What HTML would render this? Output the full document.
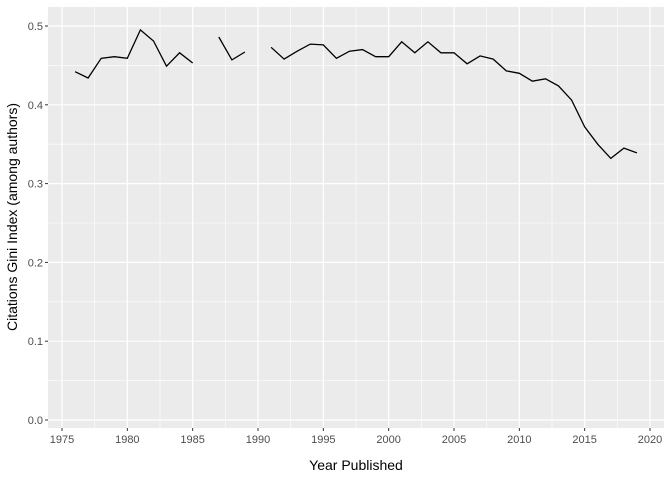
<!DOCTYPE html>
<html><head><meta charset="utf-8"><style>
body{margin:0;background:#fff;}
svg{display:block;font-family:"Liberation Sans",sans-serif;}
</style></head><body>
<svg id="chart" width="672" height="480">
<rect x="48" y="7" width="616" height="421" fill="#ebebeb"/>
<g id="grid"></g><g id="ticks"></g>
<path id="line" fill="none" stroke="#000" stroke-width="1.3"/>
<text x="356" y="470" text-anchor="middle" font-size="14" fill="#000">Year Published</text>
<text transform="translate(17,217) rotate(-90)" text-anchor="middle" font-size="14" fill="#000">Citations Gini Index (among authors)</text>
</svg>
<script>
const years=[1976,1977,1978,1979,1980,1981,1982,1983,1984,1985,1986,1987,1988,1989,1990,1991,1992,1993,1994,1995,1996,1997,1998,1999,2000,2001,2002,2003,2004,2005,2006,2007,2008,2009,2010,2011,2012,2013,2014,2015,2016,2017,2018,2019];
const gini=[0.442,0.434,0.459,0.461,0.459,0.495,0.481,0.449,0.466,0.453,null,0.486,0.457,0.467,null,0.473,0.458,0.468,0.477,0.476,0.459,0.468,0.470,0.461,0.461,0.480,0.466,0.480,0.466,0.466,0.452,0.462,0.458,0.443,0.440,0.430,0.433,0.424,0.406,0.372,0.350,0.332,0.345,0.339];
const xTicks=[1975,1980,1985,1990,1995,2000,2005,2010,2015,2020];
const yTicks=[0,0.1,0.2,0.3,0.4,0.5];
const yTickLabels=["0.0","0.1","0.2","0.3","0.4","0.5"];
const X=v=>62+(v-1975)*588/45;
const Y=v=>420-v*788;
const NS="http://www.w3.org/2000/svg";
const grid=document.getElementById('grid'),ticks=document.getElementById('ticks');
function mk(p,tag,a){const e=document.createElementNS(NS,tag);for(const k in a)e.setAttribute(k,a[k]);p.appendChild(e);return e;}
for(let i=0;i<xTicks.length-1;i++){const m=(xTicks[i]+xTicks[i+1])/2;
const g=mk(grid,'line',{x1:X(m),x2:X(m),y1:7,y2:428,stroke:'#fff','stroke-width':0.6});

}
for(let i=0;i<yTicks.length-1;i++){const m=(yTicks[i]+yTicks[i+1])/2;
const g=mk(grid,'line',{x1:48,x2:664,y1:Y(m),y2:Y(m),stroke:'#fff','stroke-width':0.6});

}
xTicks.forEach(t=>{const g=mk(grid,'line',{x1:X(t),x2:X(t),y1:7,y2:428,stroke:'#fff','stroke-width':1.2});


mk(ticks,'line',{x1:X(t),x2:X(t),y1:428,y2:431,stroke:'#333'});
const l=mk(ticks,'text',{x:X(t),y:443,'text-anchor':'middle','font-size':11,fill:'#4d4d4d'});l.textContent=t;

});
yTicks.forEach((t,i)=>{const g=mk(grid,'line',{x1:48,x2:664,y1:Y(t),y2:Y(t),stroke:'#fff','stroke-width':1.2});


mk(ticks,'line',{x1:45,x2:48,y1:Y(t),y2:Y(t),stroke:'#333'});
const l=mk(ticks,'text',{x:43,y:Y(t)+4,'text-anchor':'end','font-size':11,fill:'#4d4d4d'});l.textContent=yTickLabels[i];

});
let d='',pen=false;
years.forEach((yr,i)=>{const v=gini[i];if(v===null){pen=false;return;}d+=(pen?'L':'M')+X(yr).toFixed(1)+' '+Y(v).toFixed(1)+' ';pen=true;});
document.getElementById('line').setAttribute('d',d);
</script>
</body></html>
